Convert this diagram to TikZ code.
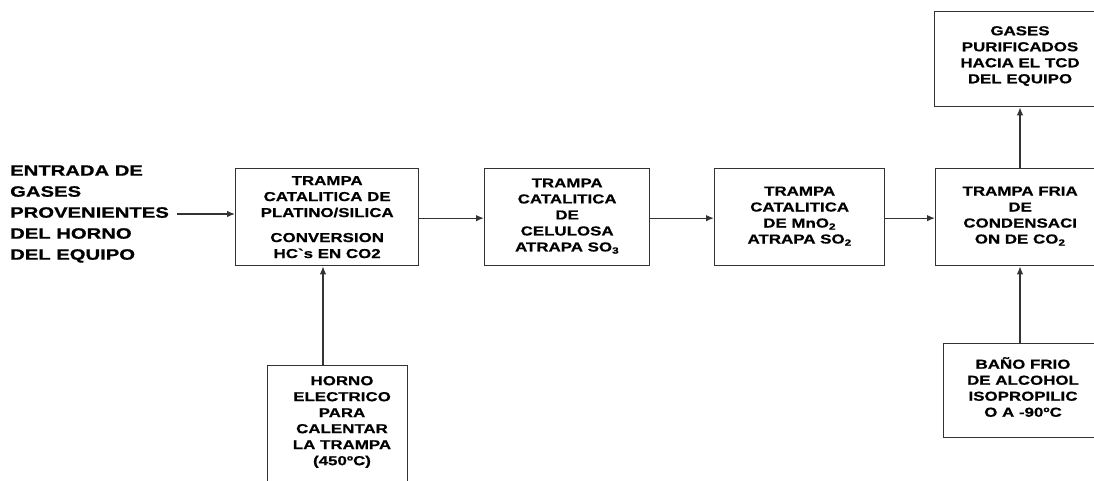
\documentclass[tikz,border=0pt]{standalone}
\usepackage{fontspec}
\usetikzlibrary{arrows.meta}
\newfontfamily\boxfont[FakeStretch=1.3,FakeBold=0.6]{Liberation Sans}
\newfontfamily\leftfont[FakeStretch=1.35,FakeBold=0.8]{Liberation Sans}
\definecolor{ln}{HTML}{333333}
\tikzset{
  blk/.style={draw=ln, line width=1.3pt, anchor=north west, inner sep=0pt},
  btext/.style={align=center, inner sep=0pt, font=\boxfont\bfseries\fontsize{13}{16}\selectfont},
  arr/.style={draw=ln, line width=1.3pt, -{Latex[length=8pt,width=6.5pt]}}
}
\begin{document}
\begin{tikzpicture}[x=1pt,y=-1pt]
\clip (0,0) rectangle (1094,481);
\fill[white] (0,0) rectangle (1094,481);
% left text
\node[anchor=west, align=left, inner sep=0pt, font=\leftfont\bfseries\fontsize{15}{21}\selectfont] (src) at (10,214)
  {ENTRADA DE\\GASES\\PROVENIENTES\\DEL HORNO\\DEL EQUIPO};
% boxes
\node[blk, minimum width=183pt, minimum height=97pt] (b1) at (235,168) {};
\node[btext] (t1) at (b1.center) {TRAMPA\\CATALITICA DE\\PLATINO/SILICA\\[9pt]CONVERSION\\HC`s EN CO2};
\node[blk, minimum width=165pt, minimum height=97pt] (b2) at (484,168) {};
\node[btext] (t2) at ([yshift=1pt]b2.center) {TRAMPA\\CATALITICA\\DE\\CELULOSA\\ATRAPA SO\textsubscript{3}};
\node[blk, minimum width=170pt, minimum height=97pt] (b3) at (714,168) {};
\node[btext] (t3) at ([yshift=1pt]b3.center) {TRAMPA\\CATALITICA\\DE MnO\textsubscript{2}\\ATRAPA SO\textsubscript{2}};
\node[blk, minimum width=169pt, minimum height=97pt] (b4) at (935,168) {};
\node[btext] (t4) at ([yshift=1pt]b4.center) {TRAMPA FRIA\\DE\\CONDENSACI\\ON DE CO\textsubscript{2}};
\node[blk, minimum width=171pt, minimum height=95pt] (b5) at (934,11) {};
\node[btext] (t5) at (1020,56) {GASES\\PURIFICADOS\\HACIA EL TCD\\DEL EQUIPO};
\node[blk, minimum width=140pt, minimum height=140pt] (b6) at (267,365) {};
\node[btext] (t6) at (342,422) {HORNO\\ELECTRICO\\PARA\\CALENTAR\\LA TRAMPA\\(450ºC)};
\node[blk, minimum width=162pt, minimum height=94pt] (b7) at (943,343) {};
\node[btext] (t7) at (1023,387) {BAÑO FRIO\\DE ALCOHOL\\ISOPROPILIC\\O A -90ºC};
% connectors
\draw[arr] ([xshift=8pt]src.east) -- (b1.west |- src.east);
\draw[arr] ([yshift=-1pt]b1.east) -- ([yshift=-1pt]b2.west);
\draw[arr] ([yshift=-1pt]b2.east) -- ([yshift=-1pt]b3.west);
\draw[arr] ([yshift=-1pt]b3.east) -- ([yshift=-1pt]b4.west);
\draw[arr] (b4.north -| 1020,0) -- (b5.south -| 1020,0);
\draw[arr] (b7.north -| 1020,0) -- (b4.south -| 1020,0);
\draw[arr] (b6.north -| 323,0) -- (b1.south -| 323,0);
\end{tikzpicture}
\end{document}
